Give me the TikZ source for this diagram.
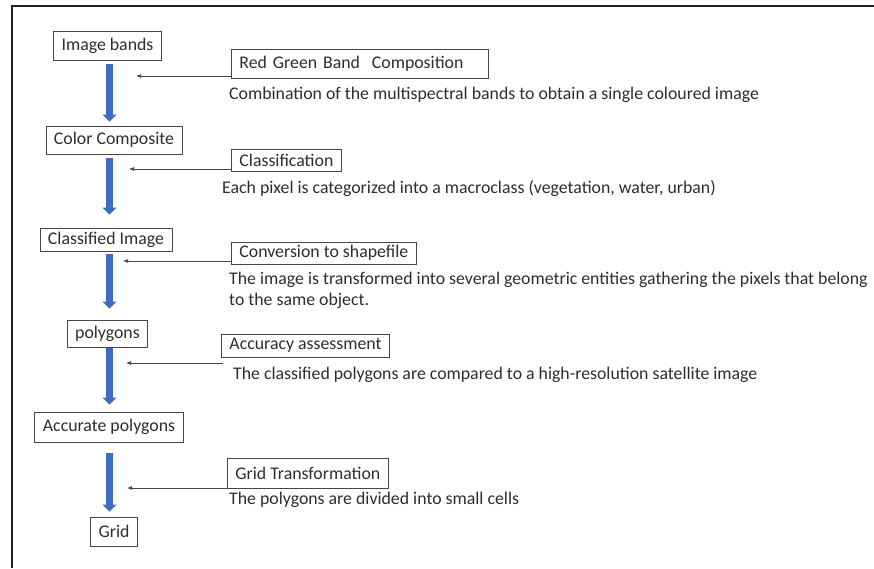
\documentclass[tikz,border=0pt]{standalone}
\usepackage{fontspec}
\setmainfont{Carlito}
\usetikzlibrary{arrows.meta}
\definecolor{txt}{RGB}{45,45,45}
\definecolor{boxc}{RGB}{70,70,70}
\definecolor{blu}{RGB}{62,108,190}
\tikzset{
  box/.style={draw=boxc, line width=0.9pt, text=txt, font=\fontsize{17.8}{20}\selectfont,
    inner xsep=8pt, inner ysep=0pt, minimum height=#1},
  box/.default=29pt,
  desc/.style={text=txt, font=\fontsize{17.8}{20.5}\selectfont, inner sep=0pt, anchor=base west, align=left},
  bluearr/.style={draw=blu, line width=6.5pt, -{Triangle[width=14pt,length=7pt]}},
  thinarr/.style={draw=boxc, line width=0.7pt, -{Latex[length=5pt,width=4pt]}}
}
\begin{document}
\begin{tikzpicture}[x=1pt,y=-1pt]
\useasboundingbox (0,0) rectangle (874,568);
% frame
\draw[line width=2.4pt, color={rgb,255:red,30;green,30;blue,30}] (874,6) -- (12,6) -- (12,568);
% left boxes
\node[box] (ib) at (107.5,45.5) {Image bands};
\node[box=28pt] (cc) at (114,140) {Color Composite};
\node[box=23pt] (ci) at (106,239.5) {Classified Image};
\node[box=27pt] (pg) at (107.5,333.5) {polygons};
\node[box=30pt] (ap) at (109,427) {Accurate polygons};
\node[box] (gr) at (114,531.5) {Grid};
% right boxes
\node[box, anchor=west, text width=241pt, align=left] (rg) at (231,63.5) {Red Green Band\ \ Composition};
\node[box=22pt, anchor=west] (cl) at (231,160) {Classification};
\node[box=22pt, anchor=west] (cv) at (231,253) {Conversion to shapefile};
\node[box=23pt, anchor=west] (aa) at (221,345.5) {Accuracy assessment};
\node[box=30pt, anchor=west] (gt) at (227,473) {Grid Transformation};
% descriptions
\node[desc] (d1) at (229,99) {Combination of the multispectral bands to obtain a single coloured image};
\node[desc] (d2) at (222,193) {Each pixel is categorized into a macroclass (vegetation, water, urban)};
\node[desc] (d3) at (229,305) {The image is transformed into several geometric entities gathering the pixels that belong\\to the same object.};
\node[desc] (d4) at (233,379) {The classified polygons are compared to a high-resolution satellite image};
\node[desc] (d5) at (229,504) {The polygons are divided into small cells};
% blue arrows
\coordinate (ax) at (109.5,0);
\draw[bluearr] ([yshift=-4pt]ib.south -| ax) -- ([yshift=4pt]cc.north -| ax);
\draw[bluearr] ([yshift=-4pt]cc.south -| ax) -- ([yshift=13pt]ci.north -| ax);
\draw[bluearr] ([yshift=-3pt]ci.south -| ax) -- ([yshift=11pt]pg.north -| ax);
\draw[bluearr] ([yshift=-1pt]pg.south -| ax) -- ([yshift=7pt]ap.north -| ax);
\draw[bluearr] ([yshift=-11pt]ap.south -| ax) -- ([yshift=5pt]gr.north -| ax);
% thin arrows
\coordinate (t1) at (136,76);
\coordinate (t2) at (129,169);
\coordinate (t3) at (123,261);
\coordinate (t4) at (126,363);
\coordinate (t5) at (127,488);
\draw[thinarr] (rg.west |- t1) -- (t1);
\draw[thinarr] (cl.west |- t2) -- (t2);
\draw[thinarr] (cv.west |- t3) -- (t3);
\draw[thinarr] ([xshift=2pt]aa.west |- t4) -- (t4);
\draw[thinarr] (gt.west |- t5) -- (t5);
\end{tikzpicture}
\end{document}
